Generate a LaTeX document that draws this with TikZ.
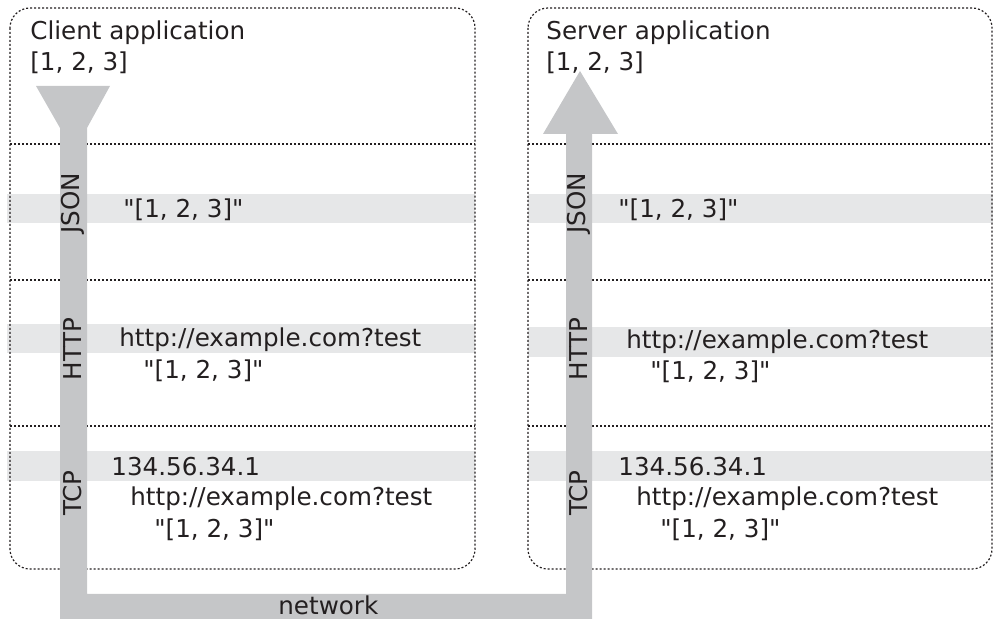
\documentclass[tikz,border=0pt]{standalone}
\usepackage{fontspec}
\setmainfont{DejaVu Sans}
\usepackage{tikz}
\usetikzlibrary{calc}
\definecolor{bandgray}{HTML}{E6E7E8}
\definecolor{flowgray}{HTML}{C5C6C8}
\definecolor{inkgray}{HTML}{231F20}
\newcommand{\qlist}{\textquotedbl[1, 2, 3]\textquotedbl}

\begin{document}
\begin{tikzpicture}[x=0.5pt,y=-0.5pt,
		txt/.style={inner sep=0pt,anchor=base west,text=inkgray,font=\fontsize{12.3}{15}\selectfont},
		layer/.style={inner sep=0pt,rotate=90,text=inkgray,font=\fontsize{12.3}{15}\selectfont},
		frame/.style={draw=inkgray,line width=0.6pt,dash pattern=on 1pt off 1pt}]
	\useasboundingbox (0,0) rectangle (993,619);
	
	%bands
	\fill[bandgray] (7,194) rectangle (475,223);
	\fill[bandgray] (7,324) rectangle (475,353);
	\fill[bandgray] (7,451) rectangle (475,481);
	\fill[bandgray] (528,194) rectangle (993,223);
	\fill[bandgray] (528,327) rectangle (993,357);
	\fill[bandgray] (528,451) rectangle (993,481);
	
	%boxes
	\foreach \l/\r in {10/475,528/992}
	{
		\draw[frame,rounded corners=10pt] (\l,8) rectangle (\r,569);
		\foreach \y in {144,280,426}
		{
			\draw[frame] (\l,\y) -- (\r,\y);
		}
	}
	
	%flow
	\fill[flowgray] (36,86) -- (110,86) -- (87,128) -- (87,594) -- (566,594) -- (566,134)
		-- (543,134) -- (580,71) -- (618,134) -- (592,134) -- (592,619) -- (60,619)
		-- (60,128) -- cycle;
	\node[txt] (network) at (278,615) {network};
	
	%client
	\node[txt] (cltitle) at (30,40) {Client application};
	\node[txt] (cldata) at (30,71) {[1, 2, 3]};
	\node[layer] (cljson) at (73,203) {JSON};
	\node[layer] (clhttp) at (73,349) {HTTP};
	\node[layer] (cltcp) at (73,493) {TCP};
	\node[txt] (cljsondata) at (123,218) {\qlist};
	\node[txt] (clhttpurl) at (119,347) {http://example.com?test};
	\node[txt] (clhttpdata) at (143,379) {\qlist};
	\node[txt] (cltcpip) at (111,476) {134.56.34.1};
	\node[txt] (cltcpurl) at (130,506) {http://example.com?test};
	\node[txt] (cltcpdata) at (154,538) {\qlist};
	
	%server
	\node[txt] (svtitle) at (546,40) {Server application};
	\node[txt] (svdata) at (546,71) {[1, 2, 3]};
	\node[layer] (svjson) at (579,203) {JSON};
	\node[layer] (svhttp) at (579,349) {HTTP};
	\node[layer] (svtcp) at (579,493) {TCP};
	\node[txt] (svjsondata) at (618,218) {\qlist};
	\node[txt] (svhttpurl) at (626,349) {http://example.com?test};
	\node[txt] (svhttpdata) at (650,380) {\qlist};
	\node[txt] (svtcpip) at (618,476) {134.56.34.1};
	\node[txt] (svtcpurl) at (636,506) {http://example.com?test};
	\node[txt] (svtcpdata) at (660,538) {\qlist};
\end{tikzpicture}
\end{document}
